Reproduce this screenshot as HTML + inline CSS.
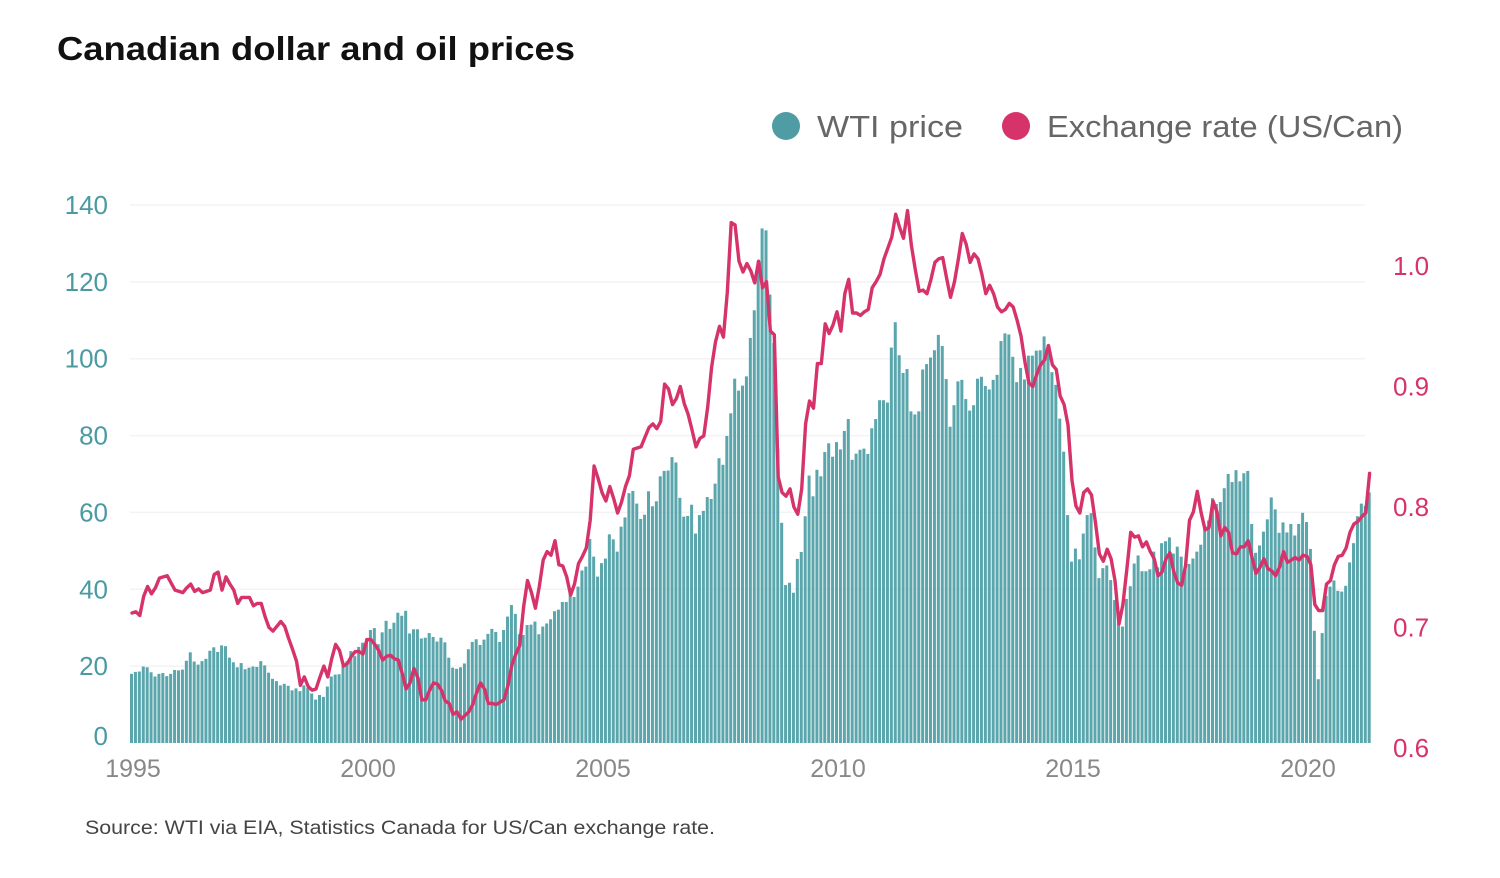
<!DOCTYPE html>
<html><head><meta charset="utf-8"><title>Canadian dollar and oil prices</title>
<style>
html,body{margin:0;padding:0;background:#fff;}
svg{display:block;font-family:"Liberation Sans",sans-serif;}
</style></head>
<body>
<svg id="chart" width="1500" height="878" viewBox="0 0 1500 878" xmlns="http://www.w3.org/2000/svg">
<text x="57" y="60" font-size="33" font-weight="bold" fill="#111" textLength="518" lengthAdjust="spacingAndGlyphs">Canadian dollar and oil prices</text>
<g>
<circle cx="786" cy="126" r="14" fill="#4f9ca5"/>
<text x="817" y="137" font-size="31" fill="#666" textLength="146" lengthAdjust="spacingAndGlyphs">WTI price</text>
<circle cx="1016" cy="126" r="14" fill="#d6336b"/>
<text x="1047" y="137" font-size="31" fill="#666" textLength="356" lengthAdjust="spacingAndGlyphs">Exchange rate (US/Can)</text>
</g>
<g id="grid"></g>
<g id="bars"></g>
<g id="line"></g>
<g id="laxis"></g>
<g id="raxis"></g>
<g id="xaxis"></g>
<text x="85" y="834" font-size="19" fill="#444" textLength="630" lengthAdjust="spacingAndGlyphs">Source: WTI via EIA, Statistics Canada for US/Can exchange rate.</text>
</svg>
<script>
const startYear = 1995;
const wti = [
18.0,18.5,18.6,19.9,19.7,18.4,17.3,18.0,18.2,17.4,18.0,19.0,
18.9,19.1,21.4,23.6,21.2,20.4,21.3,21.9,24.0,24.9,23.7,25.4,
25.2,22.2,21.0,19.7,20.8,19.2,19.6,19.9,19.8,21.3,20.2,18.3,
16.7,16.1,15.0,15.4,14.9,13.7,14.2,13.5,15.0,14.4,12.9,11.3,
12.5,12.0,14.7,17.3,17.8,17.9,20.1,21.3,23.9,22.6,25.0,26.1,
27.2,29.4,29.9,25.7,28.8,31.8,29.7,31.3,33.9,33.1,34.4,28.5,
29.6,29.6,27.2,27.4,28.6,27.6,26.4,27.4,26.2,22.2,19.6,19.3,
19.7,20.7,24.4,26.3,27.0,25.5,26.9,28.4,29.7,28.9,26.3,29.4,
32.9,35.9,33.6,28.3,28.1,30.7,30.8,31.6,28.3,30.3,31.1,32.2,
34.3,34.7,36.7,36.7,40.3,38.0,40.7,44.9,45.9,53.1,48.5,43.3,
46.8,48.0,54.3,53.0,49.8,56.3,58.7,65.0,65.6,62.3,58.3,59.4,
65.5,61.6,62.9,69.4,70.8,70.9,74.4,73.0,63.8,58.9,59.1,62.0,
54.5,59.3,60.4,64.0,63.5,67.5,74.1,72.4,79.9,85.8,94.8,91.7,
93.0,95.4,105.4,112.6,125.4,133.9,133.4,116.7,104.1,76.6,57.3,41.1,
41.7,39.1,47.9,49.7,59.0,69.6,64.2,71.1,69.4,75.7,78.0,74.5,
78.3,76.4,81.2,84.3,73.7,75.3,76.3,76.6,75.2,81.9,84.3,89.2,
89.2,88.6,102.9,109.5,100.9,96.3,97.3,86.3,85.5,86.3,97.2,98.6,
100.3,102.2,106.2,103.3,94.7,82.3,87.9,94.1,94.5,89.5,86.5,87.9,
94.8,95.3,92.9,92.0,94.5,95.8,104.6,106.6,106.3,100.5,93.9,97.6,
94.6,100.8,100.8,102.1,102.2,105.8,103.6,96.5,93.2,84.4,75.8,59.3,
47.2,50.6,47.8,54.5,59.3,59.8,50.9,42.9,45.5,46.2,42.4,37.2,
31.7,30.3,37.5,40.8,46.7,48.8,44.7,44.7,45.2,49.8,45.7,52.0,
52.5,53.5,49.3,51.1,48.5,45.2,46.6,48.0,49.8,51.6,56.6,57.9,
63.7,62.2,62.7,66.3,70.0,67.9,71.0,68.1,70.2,70.8,57.0,49.5,
51.4,55.0,58.2,63.9,60.8,54.7,57.4,54.8,57.0,54.0,57.0,59.9,
57.5,50.5,29.2,16.6,28.6,38.3,40.7,42.3,39.6,39.4,40.9,47.0,
52.0,59.0,62.3,61.7,65.2
];
const fx = [
.712,.713,.710,.726,.734,.728,.733,.741,.742,.743,.737,.731,
.730,.729,.733,.736,.730,.732,.729,.730,.731,.744,.746,.731,
.742,.736,.731,.720,.725,.725,.725,.718,.720,.720,.709,.700,
.697,.701,.705,.701,.691,.682,.672,.652,.659,.651,.648,.649,
.659,.668,.659,.674,.686,.681,.668,.670,.676,.680,.680,.678,
.690,.690,.686,.681,.673,.676,.677,.674,.673,.662,.649,.654,
.666,.658,.640,.640,.648,.654,.653,.648,.639,.637,.628,.630,
.624,.627,.630,.636,.646,.654,.649,.637,.637,.636,.638,.640,
.652,.669,.678,.685,.717,.739,.729,.716,.734,.756,.763,.760,
.772,.752,.751,.742,.727,.736,.753,.759,.766,.789,.834,.824,
.812,.805,.817,.807,.795,.804,.817,.826,.848,.849,.850,.858,
.866,.869,.865,.871,.902,.898,.885,.890,.900,.886,.877,.864,
.850,.857,.859,.883,.916,.937,.950,.941,.978,1.036,1.034,1.004,
.995,1.002,.996,.986,1.004,.982,.987,.946,.943,.825,.812,.809,
.815,.800,.794,.815,.869,.888,.882,.919,.919,.952,.944,.951,
.962,.946,.977,.989,.961,.961,.959,.962,.964,.982,.987,.993,
1.006,1.015,1.024,1.043,1.032,1.023,1.046,1.017,.997,.979,.980,.977,
.989,1.003,1.006,1.007,.990,.974,.987,1.006,1.027,1.018,1.003,1.010,
1.006,.993,.977,.984,.977,.966,.962,.964,.969,.966,.955,.942,
.920,.903,.900,.910,.918,.922,.934,.918,.914,.892,.885,.868,
.822,.801,.795,.812,.815,.810,.787,.761,.755,.765,.757,.739,
.703,.719,.748,.779,.775,.776,.767,.771,.763,.757,.743,.746,
.757,.762,.746,.737,.735,.751,.789,.796,.813,.795,.781,.783,
.805,.796,.776,.783,.779,.762,.761,.767,.767,.772,.758,.745,
.750,.757,.749,.747,.743,.750,.763,.754,.756,.758,.756,.760,
.759,.752,.719,.714,.714,.736,.739,.752,.759,.760,.766,.779,
.786,.788,.792,.795,.828
];
const leftTicks = [0,20,40,60,80,100,120,140];
const rightTicks = [0.6,0.7,0.8,0.9,1.0];
const yearTicks = [1995,2000,2005,2010,2015,2020];

const NS = "http://www.w3.org/2000/svg";
const X0 = 130, PXM = 47/12;
const xAt = m => X0 + m * PXM;
const yL = v => 743 - v * (538/140);
const yR = v => 748 - (v - 0.6) * 1205;
function mk(tag, attrs, parent){ const e=document.createElementNS(NS,tag); for(const k in attrs) e.setAttribute(k,attrs[k]); parent.appendChild(e); return e; }

const grid = document.getElementById('grid');
leftTicks.forEach(t => {
  if (t === 0) return;
  const l = mk('line',{x1:130,x2:1365,y1:yL(t),y2:yL(t),stroke:'#f3f3f3','stroke-width':1.5},grid);
  
  
});

const bars = document.getElementById('bars');
wti.forEach((v,i) => {
  const r = mk('rect',{x:xAt(i),y:yL(v),width:PXM-0.9,height:yL(0)-yL(v),fill:'#5aa6ac'},bars);
  
  
});

const lineG = document.getElementById('line');
const pts = fx.map((v,i) => (xAt(i)+PXM/2).toFixed(1)+','+yR(v).toFixed(1)).join(' ');
const pl = mk('polyline',{points:pts,fill:'none',stroke:'#d6336b','stroke-width':3.4,'stroke-linejoin':'round','stroke-linecap':'round'},lineG);



const la = document.getElementById('laxis');
leftTicks.forEach(t => {
  const yy = t === 0 ? yL(t) + 2 : yL(t) + 9;
  const tx = mk('text',{x:108,y:yy,'text-anchor':'end','font-size':26,fill:'#4a9aa3'},la);
  tx.textContent = t;
  
  
});
const ra = document.getElementById('raxis');
rightTicks.forEach(t => {
  const tx = mk('text',{x:1393,y:yR(t)+9,'font-size':26,fill:'#d6336b'},ra);
  tx.textContent = t.toFixed(1);
  
  
});
const xa = document.getElementById('xaxis');
yearTicks.forEach(y => {
  const tx = mk('text',{x:xAt((y-startYear)*12)+3,y:777,'text-anchor':'middle','font-size':25,fill:'#888'},xa);
  tx.textContent = y;
  
  
});
</script>
</body></html>
